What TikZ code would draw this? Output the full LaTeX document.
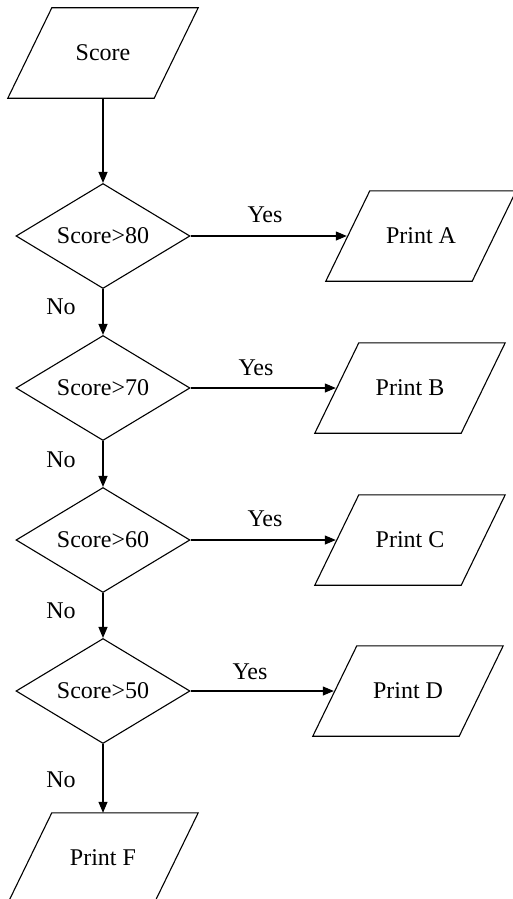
\documentclass[tikz,border=0pt]{standalone}
\usepackage{fontspec}
\setmainfont{Liberation Serif}
\usetikzlibrary{shapes.geometric,arrows.meta}
\begin{document}
\begin{tikzpicture}[x=1pt,y=-1pt,
  every node/.style={font=\fontsize{24}{28}\selectfont},
  io/.style={rectangle, minimum width=190pt, minimum height=90pt, inner sep=0pt},
  ioedge/.style={draw, line width=1.1pt, line join=miter},
  test/.style={diamond, aspect=1.657, minimum width=174pt, minimum height=105pt, inner sep=0pt, draw, line width=1.1pt},
  lbl/.style={inner sep=0pt},
  flow/.style={line width=1.1pt, -{Triangle[length=11pt,width=9pt]}},
  toio/.style={flow, shorten >=-21pt}
]
\useasboundingbox (0,0) rectangle (512,899);
\node[io] (score) at (103,53) {Score};
\node[test] (d1) at (103,236) {Score>80};
\node[test] (d2) at (103,388) {Score>70};
\node[test] (d3) at (103,540) {Score>60};
\node[test] (d4) at (103,691) {Score>50};
\node[io] (pa) at (421,236) {Print A};
\node[io] (pb) at (410,388) {Print B};
\node[io] (pc) at (410,540) {Print C};
\node[io] (pd) at (408,691) {Print D};
\node[io] (pf) at (103,858) {Print F};
\foreach \n in {score,pa,pb,pc,pd,pf}
  \draw[ioedge] ([xshift=44pt]\n.north west) -- (\n.north east)
    -- ([xshift=-44pt]\n.south east) -- (\n.south west) -- cycle;
\node[lbl] (y1) at (265,215) {Yes};
\node[lbl] (y2) at (256,368) {Yes};
\node[lbl] (y3) at (265,519) {Yes};
\node[lbl] (y4) at (250,672) {Yes};
\node[lbl] (n1) at (61,307) {No};
\node[lbl] (n2) at (61,460) {No};
\node[lbl] (n3) at (61,611) {No};
\node[lbl] (n4) at (61,780) {No};
\draw[flow] (score) -- (d1);
\draw[toio] (d1) -- (pa);
\draw[toio] (d2) -- (pb);
\draw[toio] (d3) -- (pc);
\draw[toio] (d4) -- (pd);
\draw[flow] (d1) -- (d2);
\draw[flow] (d2) -- (d3);
\draw[flow] (d3) -- (d4);
\draw[flow] (d4) -- (pf);
\end{tikzpicture}
\end{document}
